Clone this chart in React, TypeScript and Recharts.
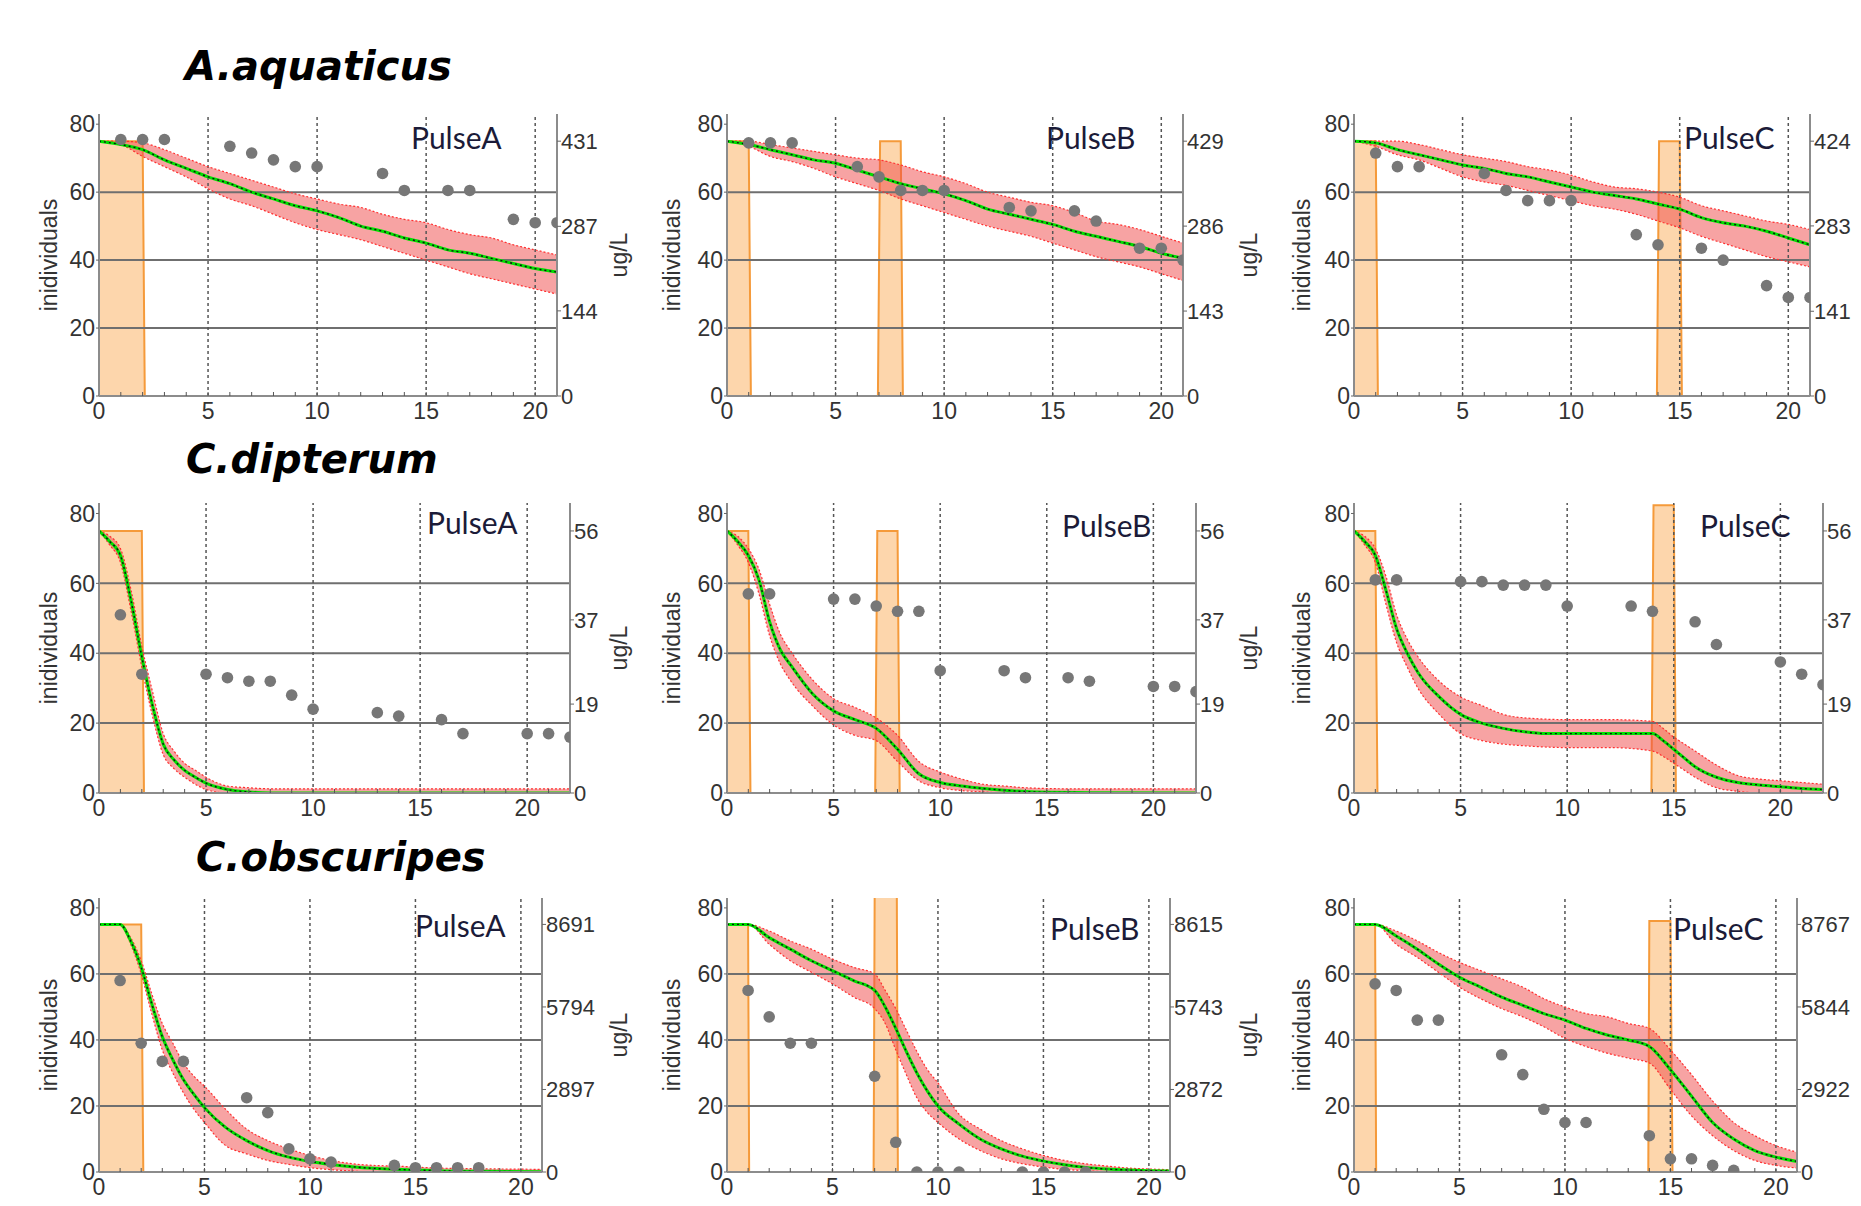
import React from "react";
import { Area, ComposedChart, Line, ReferenceLine, Scatter, XAxis, YAxis } from "recharts";

type Pair = [number, number];
type Triple = [number, number, number];

// ---------- A.aquaticus ----------
const aqA_obs: Pair[] = [[1, 75.5], [2, 75.5], [3, 75.5], [6, 73.5], [7, 71.5], [8, 69.5], [9, 67.5], [10, 67.5], [13, 65.5], [14, 60.5], [16, 60.5], [17, 60.5], [19, 52], [20, 51], [21, 51]];
const aqA_mean: Pair[] = [[0, 75], [1, 74], [2, 72.5], [3, 69.5], [4, 67], [5, 64.5], [6, 62.5], [7, 60], [8, 58], [9, 56], [10, 54.5], [11, 52.5], [12, 50], [13, 48.5], [14, 46.5], [15, 45], [16, 43], [17, 42], [18, 40.5], [19, 39], [20, 37.5], [21, 36.5]];
const aqA_band: Triple[] = [[0, 75, 75], [1, 74, 75], [2, 70.5, 74.5], [3, 67.5, 72.5], [4, 64.5, 70], [5, 61, 67.5], [6, 58, 65.5], [7, 56, 63.5], [8, 53.5, 61.5], [9, 51, 59.5], [10, 49, 58], [11, 47.5, 56.5], [12, 46, 55.5], [13, 44, 53.5], [14, 42, 52], [15, 40, 51], [16, 38, 49], [17, 36, 47.5], [18, 34.5, 46.5], [19, 33, 44.5], [20, 31.5, 43], [21, 30, 41.5]];
const aqA_pulse: Pair[] = [[0, 431], [2, 431], [2.1, 0], [21, 0]];
const aqA_conc = [0, 144, 287, 431];

const aqB_obs: Pair[] = [[1, 74.5], [2, 74.5], [3, 74.5], [6, 67.5], [7, 64.5], [8, 60.5], [9, 60.5], [10, 60.5], [13, 55.5], [14, 54.5], [16, 54.5], [17, 51.5], [19, 43.5], [20, 43.5], [21, 40]];
const aqB_mean: Pair[] = [[0, 75], [1, 74], [2, 72.5], [3, 71], [4, 69.5], [5, 68.5], [6, 66.5], [7, 64.5], [8, 62.5], [9, 61], [10, 59.5], [11, 57.5], [12, 55], [13, 53.5], [14, 52], [15, 50.5], [16, 48.5], [17, 47], [18, 45.5], [19, 44], [20, 42], [21, 40.5]];
const aqB_band: Triple[] = [[0, 75, 75], [1, 73.5, 75], [2, 70.5, 74], [3, 69, 73], [4, 67, 72], [5, 64.5, 71], [6, 62.5, 70], [7, 60.5, 69.5], [8, 58, 68], [9, 56, 66], [10, 54, 64.5], [11, 52, 62.5], [12, 50, 60], [13, 48.5, 58.5], [14, 47, 57], [15, 45, 56], [16, 43, 54], [17, 41, 51.5], [18, 39.5, 50.5], [19, 38, 49], [20, 36, 47], [21, 34, 45]];
const aqB_pulse: Pair[] = [[0, 429], [1, 429], [1.1, 0], [6.95, 0], [7.05, 429], [8, 429], [8.1, 0], [21, 0]];
const aqB_conc = [0, 143, 286, 429];

const aqC_obs: Pair[] = [[1, 71.5], [2, 67.5], [3, 67.5], [6, 65.5], [7, 60.5], [8, 57.5], [9, 57.5], [10, 57.5], [13, 47.5], [14, 44.5], [16, 43.5], [17, 40], [19, 32.5], [20, 29], [21, 29]];
const aqC_mean: Pair[] = [[0, 75], [1, 74.5], [2, 72.5], [3, 71], [4, 69.5], [5, 68], [6, 67], [7, 65.5], [8, 64.5], [9, 63], [10, 61.5], [11, 60], [12, 59], [13, 58], [14, 56.5], [15, 55], [16, 52.5], [17, 51], [18, 50], [19, 48.5], [20, 46.5], [21, 44.5]];
const aqC_band: Triple[] = [[0, 75, 75], [1, 73.5, 75], [2, 71, 75], [3, 69.5, 74], [4, 67, 72.5], [5, 64.5, 71], [6, 63, 70], [7, 62, 69], [8, 60.5, 67.5], [9, 59, 66.5], [10, 57.5, 65], [11, 56, 63], [12, 55, 61.5], [13, 53.5, 61], [14, 51.5, 60], [15, 49.5, 58.5], [16, 47, 56], [17, 45, 54.5], [18, 43, 53], [19, 41, 51.5], [20, 39.5, 50.5], [21, 38, 49]];
const aqC_pulse: Pair[] = [[0, 424], [1, 424], [1.1, 0], [13.95, 0], [14.05, 424], [15, 424], [15.1, 0], [21, 0]];
const aqC_conc = [0, 141, 283, 424];

// ---------- C.dipterum ----------
const diA_obs: Pair[] = [[1, 51], [2, 34], [5, 34], [6, 33], [7, 32], [8, 32], [9, 28], [10, 24], [13, 23], [14, 22], [16, 21], [17, 17], [20, 17], [21, 17], [22, 16]];
const diA_mean: Pair[] = [[0, 75], [0.5, 72], [1, 68], [1.5, 55], [2, 39], [2.5, 25], [3, 14], [3.5, 9.5], [4, 6.5], [4.5, 4.5], [5, 2.8], [6, 1], [7, 0.3], [8, 0], [22, 0]];
const diA_band: Triple[] = [[0, 75, 75], [0.5, 71, 73.5], [1, 66, 70], [1.5, 52, 58], [2, 36, 42], [2.5, 22, 29], [3, 11, 17], [3.5, 7, 12], [4, 4.5, 8.5], [4.5, 2.5, 6.5], [5, 1, 4.5], [6, 0, 2], [7, 0, 1.5], [8, 0, 1.2], [22, 0, 1.2]];
const diA_pulse: Pair[] = [[0, 56], [2, 56], [2.1, 0], [22, 0]];
const diA_conc = [0, 19, 37, 56];

const diB_obs: Pair[] = [[1, 57], [2, 57], [5, 55.5], [6, 55.5], [7, 53.5], [8, 52], [9, 52], [10, 35], [13, 35], [14, 33], [16, 33], [17, 32], [20, 30.5], [21, 30.5], [22, 29]];
const diB_mean: Pair[] = [[0, 75], [0.5, 72], [1, 68], [1.5, 61], [2, 49], [2.5, 41], [3, 36.5], [4, 28.5], [5, 23.5], [6, 21], [7, 18.5], [8, 12.5], [9, 5.5], [10, 3], [11, 2], [12, 1.3], [13, 0.8], [14, 0.4], [15, 0.2], [17, 0.1], [22, 0]];
const diB_band: Triple[] = [[0, 75, 75], [0.5, 71, 73.5], [1, 66, 70], [1.5, 57, 64], [2, 45, 54], [2.5, 37, 45.5], [3, 32, 40.5], [4, 25, 32.5], [5, 19.5, 27], [6, 16.5, 24.5], [7, 15, 21.5], [8, 9, 16.5], [9, 3.5, 9], [10, 1.5, 6], [11, 0.7, 4], [12, 0.3, 2.5], [13, 0, 2], [14, 0, 1.5], [16, 0, 1.2], [22, 0, 1.2]];
const diB_pulse: Pair[] = [[0, 56], [1, 56], [1.1, 0], [6.95, 0], [7.05, 56], [8, 56], [8.1, 0], [22, 0]];
const diB_conc = [0, 19, 37, 56];

const diC_obs: Pair[] = [[1, 61], [2, 61], [5, 60.5], [6, 60.5], [7, 59.5], [8, 59.5], [9, 59.5], [10, 53.5], [13, 53.5], [14, 52], [16, 49], [17, 42.5], [20, 37.5], [21, 34], [22, 31]];
const diC_mean: Pair[] = [[0, 75], [0.5, 72], [1, 68], [1.5, 58], [2, 47], [2.5, 40], [3, 34.5], [4, 27.5], [5, 22.5], [6, 20], [7, 18.5], [8, 17.5], [9, 17], [10, 17], [12, 17], [14, 17], [14.5, 15], [15, 12.5], [15.5, 10], [16, 7.5], [17, 4.5], [18, 3], [19, 2.3], [20, 1.8], [21, 1.3], [22, 1]];
const diC_band: Triple[] = [[0, 75, 75], [0.5, 71, 73.5], [1, 66, 70], [1.5, 54, 62], [2, 43, 51], [2.5, 36, 44], [3, 30, 39], [4, 22.5, 32], [5, 17, 27.5], [6, 15, 25], [7, 14, 22.5], [8, 13.5, 21.5], [10, 13, 21], [12, 13, 21], [14, 12, 20.5], [14.5, 10.5, 18.5], [15, 8.5, 16], [15.5, 6.5, 14], [16, 4.5, 12], [17, 1.5, 8], [18, 0.5, 5], [19, 0, 4], [20, 0, 3.5], [22, 0, 2.5]];
const diC_pulse: Pair[] = [[0, 56], [1, 56], [1.1, 0], [13.95, 0], [14.05, 61.5], [15, 61.5], [15.1, 0], [22, 0]];
const diC_conc = [0, 19, 37, 56];

// ---------- C.obscuripes ----------
const obA_obs: Pair[] = [[1, 58], [2, 39], [3, 33.5], [4, 33.5], [7, 22.5], [8, 18], [9, 7], [10, 4], [11, 3], [14, 2], [15, 1.3], [16, 1.3], [17, 1.3], [18, 1.3]];
const obA_mean: Pair[] = [[0, 75], [1, 75], [1.5, 70], [2, 62], [2.5, 51], [3, 41], [3.5, 34], [4, 28], [4.5, 23.5], [5, 19.5], [6, 13.5], [7, 9.5], [8, 6.5], [9, 4.5], [10, 3.2], [11, 2.3], [12, 1.6], [13, 1.1], [14, 0.8], [15, 0.6], [16, 0.4], [18, 0.2], [21, 0.1]];
const obA_band: Triple[] = [[0, 75, 75], [1, 75, 75], [1.5, 69, 71], [2, 60, 64], [2.5, 48, 54], [3, 37, 45], [3.5, 30, 39], [4, 24, 33], [4.5, 19, 29], [5, 15, 26], [6, 8, 19], [7, 5.5, 13], [8, 3.5, 9.5], [9, 2.3, 7], [10, 1.3, 5], [11, 0.7, 3.5], [12, 0.3, 2.5], [13, 0, 2], [14, 0, 1.8], [16, 0, 1.2], [18, 0, 1], [21, 0, 0.8]];
const obA_pulse: Pair[] = [[0, 8691], [2, 8691], [2.1, 0], [21, 0]];
const obA_conc = [0, 2897, 5794, 8691];

const obB_obs: Pair[] = [[1, 55], [2, 47], [3, 39], [4, 39], [7, 29], [8, 9], [9, 0], [10, 0], [11, 0], [14, 0], [15, 0], [16, 0], [17, 0]];
const obB_mean: Pair[] = [[0, 75], [1, 75], [2, 71], [3, 67.5], [4, 64], [5, 61], [6, 58], [7, 55], [7.5, 50], [8, 43.5], [8.5, 36.5], [9, 30], [9.5, 24.5], [10, 20], [11, 14.5], [12, 10], [13, 7], [14, 4.8], [15, 3.3], [16, 2.2], [17, 1.4], [18, 0.9], [19, 0.6], [20, 0.4], [21, 0.3]];
const obB_band: Triple[] = [[0, 75, 75], [1, 75, 75], [2, 69, 73], [3, 64, 70], [4, 60.5, 67.5], [5, 57, 64.5], [6, 53, 62], [7, 49.5, 60], [7.5, 45, 55], [8, 37, 49.5], [8.5, 29.5, 43], [9, 22.5, 36.5], [9.5, 18, 31], [10, 15, 27], [11, 10, 17.5], [12, 6.5, 13], [13, 4, 9.5], [14, 2.5, 7], [15, 1.5, 5], [16, 0.8, 3.5], [17, 0.4, 2.5], [18, 0.1, 1.8], [19, 0, 1.2], [20, 0, 0.9], [21, 0, 0.7]];
const obB_pulse: Pair[] = [[0, 8615], [1, 8615], [1.05, 0], [6.95, 0], [7, 9600], [8.05, 9600], [8.1, 0], [21, 0]];
const obB_conc = [0, 2872, 5743, 8615];

const obC_obs: Pair[] = [[1, 57], [2, 55], [3, 46], [4, 46], [7, 35.5], [8, 29.5], [9, 19], [10, 15], [11, 15], [14, 11], [15, 4], [16, 4], [17, 2], [18, 0.5]];
const obC_mean: Pair[] = [[0, 75], [1, 75], [2, 71.5], [3, 67.5], [4, 63], [5, 59], [6, 56], [7, 53], [8, 50.5], [9, 48], [10, 46], [11, 43.5], [12, 41.5], [13, 40], [14, 38], [15, 31], [16, 23], [17, 15], [18, 10], [19, 6.5], [20, 4.5], [21, 3.2]];
const obC_band: Triple[] = [[0, 75, 75], [1, 75, 75], [2, 69, 73], [3, 65, 70], [4, 60.5, 66.5], [5, 56, 63.5], [6, 52.5, 61], [7, 49.5, 58.5], [8, 47, 56], [9, 44, 52.5], [10, 40.5, 50], [11, 38, 48], [12, 36, 47], [13, 34.5, 45], [14, 33, 43.5], [15, 25, 37], [16, 17, 29.5], [17, 11, 21.5], [18, 6.5, 15], [19, 3.5, 11], [20, 2, 8], [21, 1.2, 6]];
const obC_pulse: Pair[] = [[0, 8767], [1, 8767], [1.05, 0], [13.95, 0], [14, 8885], [15, 8885], [15.1, 0], [21, 0]];
const obC_conc = [0, 2922, 5844, 8767];

const yTicks = [0, 20, 40, 60, 80];
const gridY = [20, 40, 60];
const gridX = [5, 10, 15, 20];
const titles = ["A.aquaticus", "C.dipterum", "C.obscuripes"];
const pulseNames = ["PulseA", "PulseB", "PulseC"];

const Y_MAX = 83;
const SANS = "'Liberation Sans', Arial, sans-serif";

const panels = [
  { obs: aqA_obs, mean: aqA_mean, band: aqA_band, pulse: aqA_pulse, conc: aqA_conc, xMax: 21 },
  { obs: aqB_obs, mean: aqB_mean, band: aqB_band, pulse: aqB_pulse, conc: aqB_conc, xMax: 21 },
  { obs: aqC_obs, mean: aqC_mean, band: aqC_band, pulse: aqC_pulse, conc: aqC_conc, xMax: 21 },
  { obs: diA_obs, mean: diA_mean, band: diA_band, pulse: diA_pulse, conc: diA_conc, xMax: 22 },
  { obs: diB_obs, mean: diB_mean, band: diB_band, pulse: diB_pulse, conc: diB_conc, xMax: 22 },
  { obs: diC_obs, mean: diC_mean, band: diC_band, pulse: diC_pulse, conc: diC_conc, xMax: 22 },
  { obs: obA_obs, mean: obA_mean, band: obA_band, pulse: obA_pulse, conc: obA_conc, xMax: 21 },
  { obs: obB_obs, mean: obB_mean, band: obB_band, pulse: obB_pulse, conc: obB_conc, xMax: 21 },
  { obs: obC_obs, mean: obC_mean, band: obC_band, pulse: obC_pulse, conc: obC_conc, xMax: 21 },
];

// layout: plot box [left, right, top, bottom] in page px
const boxes = [
  [99, 557, 114, 396], [727, 1183, 114, 396], [1354, 1810, 114, 396],
  [99, 570, 503, 793], [727, 1196, 503, 793], [1354, 1823, 503, 793],
  [99, 542, 898, 1172], [727, 1170, 898, 1172], [1354, 1797, 898, 1172],
];
const pulseLabelPos = [
  [411, 149], [1046, 149], [1684, 149],
  [427, 534], [1062, 537], [1700, 537],
  [415, 937], [1050, 940], [1673, 940],
];
const titlePos = [[185, 80], [186, 473], [196, 871]];
const leftLabelX = [49, 672, 1302];
const rightLabelX = [619, 1249];

const FRAME = "#8c8c8c";

function Panel({ idx }: { idx: number }) {
  const p = panels[idx];
  const [l, r, t, b] = boxes[idx];
  const LW = 50, RW = 70, XH = 40, TOP = 5;
  const w = r - l + LW + RW;
  const h = b - t + TOP + XH;
  const cTop = (p.conc[3] * Y_MAX) / 75;
  const minor = Array.from({ length: p.xMax + 1 }, (_, i) => i);
  const obs = p.obs.map(([x, v]) => ({ t: x, v }));
  const mean = p.mean.map(([x, v]) => ({ t: x, v }));
  const band = p.band.map(([x, lo, hi]) => ({ t: x, lo, hi, r: [lo, hi] }));
  const pulse = p.pulse.map(([x, c]) => ({ t: x, c }));

  return (
    <div style={{ position: "absolute", left: l - LW, top: t - TOP }}>
      <ComposedChart width={w} height={h} margin={{ top: TOP, right: 0, bottom: 0, left: 0 }}>
        <XAxis
          type="number"
          dataKey="t"
          domain={[0, p.xMax]}
          allowDataOverflow
          ticks={minor}
          interval={0}
          tickFormatter={(v) => (v % 5 === 0 ? String(v) : "")}
          tickSize={-4}
          tickMargin={11}
          height={XH}
          tick={{ fill: "#333", fontSize: 23, fontFamily: SANS }}
          tickLine={{ stroke: "#555" }}
          axisLine={{ stroke: FRAME, strokeWidth: 2 }}
        />
        <XAxis
          xAxisId="top"
          orientation="top"
          type="number"
          domain={[0, p.xMax]}
          height={0}
          tick={false}
          tickLine={false}
          axisLine={{ stroke: FRAME, strokeWidth: 2 }}
        />
        <YAxis
          yAxisId="n"
          domain={[0, Y_MAX]}
          allowDataOverflow
          ticks={yTicks}
          width={LW}
          tickSize={3}
          tickMargin={1}
          tick={{ fill: "#333", fontSize: 23, fontFamily: SANS }}
          tickLine={{ stroke: "#666" }}
          axisLine={{ stroke: FRAME, strokeWidth: 2 }}
        />
        <YAxis
          yAxisId="c"
          orientation="right"
          domain={[0, cTop]}
          allowDataOverflow
          ticks={p.conc}
          width={RW}
          tickSize={4}
          tickMargin={0}
          tick={{ fill: "#333", fontSize: 22, fontFamily: SANS, textAnchor: "start" }}
          tickLine={{ stroke: "#666" }}
          axisLine={{ stroke: FRAME, strokeWidth: 2 }}
        />
        <Area
          yAxisId="c"
          data={pulse}
          dataKey="c"
          type="linear"
          fill="#fdd6ac"
          fillOpacity={1}
          stroke="#f59a3a"
          strokeWidth={2}
          isAnimationActive={false}
        />
        {gridY.map((v) => (
          <ReferenceLine key={"gy" + v} yAxisId="n" y={v} stroke="#6f6f6f" strokeWidth={2} />
        ))}
        {gridX.filter((v) => v < p.xMax).map((v) => (
          <ReferenceLine key={"gx" + v} yAxisId="n" x={v} stroke="#555" strokeWidth={1.5} strokeDasharray="3 3" />
        ))}
        <Area
          yAxisId="n"
          data={band}
          dataKey="r"
          type="monotone"
          fill="#f04848"
          fillOpacity={0.5}
          stroke="none"
          isAnimationActive={false}
        />
        <Line yAxisId="n" data={band} dataKey="hi" type="monotone" stroke="#ff3030" strokeWidth={1.2} strokeDasharray="2 2" dot={false} isAnimationActive={false} />
        <Line yAxisId="n" data={band} dataKey="lo" type="monotone" stroke="#ff3030" strokeWidth={1.2} strokeDasharray="2 2" dot={false} isAnimationActive={false} />
        <Line yAxisId="n" data={mean} dataKey="v" type="monotone" stroke="#00e000" strokeWidth={3} dot={false} isAnimationActive={false} />
        <Line yAxisId="n" data={mean} dataKey="v" type="monotone" stroke="#111" strokeWidth={1.4} strokeDasharray="2 3" dot={false} isAnimationActive={false} />
        <Scatter
          yAxisId="n"
          data={obs}
          dataKey="v"
          isAnimationActive={false}
          shape={(s: any) => <circle cx={s.cx} cy={s.cy} r={5.8} fill="#777" />}
        />
      </ComposedChart>
    </div>
  );
}

export default function App() {
  return (
    <div
      style={{
        position: "absolute",
        left: 0,
        top: 0,
        width: 1861,
        height: 1206,
        overflow: "hidden",
        background: "#fff",
      }}
    >
      {panels.map((_, i) => (
        <Panel key={i} idx={i} />
      ))}
      <svg width={1861} height={1206} style={{ position: "absolute", left: 0, top: 0, pointerEvents: "none" }}>
        {titles.map((s, i) => (
          <text
            key={s}
            x={titlePos[i][0]}
            y={titlePos[i][1]}
            fontFamily="'DejaVu Sans', sans-serif"
            fontWeight="bold"
            fontStyle="italic"
            fontSize={40}
            fill="#000"
          >
            {s}
          </text>
        ))}
        {boxes.map((bx, i) => (
          <text
            key={"pl" + i}
            x={pulseLabelPos[i][0]}
            y={pulseLabelPos[i][1]}
            fontFamily="Lato, 'Open Sans', sans-serif"
            fontSize={30}
            fill="#1b1b38"
          >
            {pulseNames[i % 3]}
          </text>
        ))}
        {boxes.map((bx, i) => {
          const cy = (bx[2] + bx[3]) / 2;
          const col = i % 3;
          return (
            <g key={"al" + i}>
              <text
                transform={`translate(${leftLabelX[col]},${cy}) rotate(-90)`}
                textAnchor="middle"
                dominantBaseline="central"
                fontFamily={SANS}
                fontSize={23}
                fill="#333"
              >
                inidividuals
              </text>
              {col < 2 && (
                <text
                  transform={`translate(${rightLabelX[col]},${cy}) rotate(-90)`}
                  textAnchor="middle"
                  dominantBaseline="central"
                  fontFamily={SANS}
                  fontSize={23}
                  fill="#333"
                >
                  ug/L
                </text>
              )}
            </g>
          );
        })}
      </svg>
    </div>
  );
}
